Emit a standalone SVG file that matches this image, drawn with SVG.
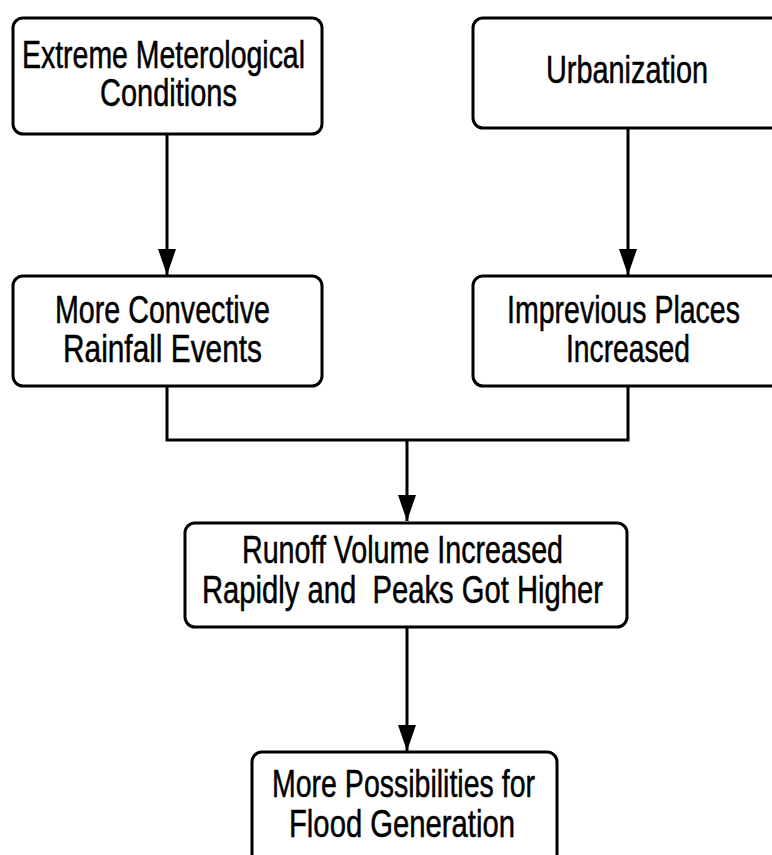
<svg xmlns="http://www.w3.org/2000/svg" width="772" height="855" viewBox="0 0 772 855">
  <style>
    .box { fill: #ffffff; stroke: #000000; stroke-width: 3; }
    .lbl { font-family: "Liberation Sans", Arial, sans-serif; font-size: 38px; fill: #000000; stroke: #000000; stroke-width: 0.5; white-space: pre; }
    .wire { fill: none; stroke: #000000; stroke-width: 3; }
  </style>
  <defs>
    <marker id="arrow" markerUnits="userSpaceOnUse" markerWidth="26" markerHeight="18" refX="26" refY="9" orient="auto">
      <path d="M0,0 L26,9 L0,18 Z" fill="#000000"/>
    </marker>
  </defs>

  <rect width="772" height="855" fill="#ffffff"/>

  <g id="connectors">
    <line class="wire" x1="167" y1="134" x2="167" y2="275" marker-end="url(#arrow)"/>
    <line class="wire" x1="628" y1="128" x2="628" y2="275" marker-end="url(#arrow)"/>
    <path class="wire" d="M167,386 V440 H628 V386"/>
    <line class="wire" x1="407" y1="440" x2="407" y2="521" marker-end="url(#arrow)"/>
    <line class="wire" x1="407" y1="627" x2="407" y2="751" marker-end="url(#arrow)"/>
  </g>

  <g id="extreme-conditions">
    <rect class="box" x="13" y="18" width="309" height="116" rx="10"/>
    <text class="lbl" x="22" y="68" textLength="283" lengthAdjust="spacingAndGlyphs">Extreme Meterological</text>
    <text class="lbl" x="100" y="106" textLength="137" lengthAdjust="spacingAndGlyphs">Conditions</text>
  </g>

  <g id="urbanization">
    <rect class="box" x="473" y="18" width="320" height="110" rx="10"/>
    <text class="lbl" x="546" y="83" textLength="162" lengthAdjust="spacingAndGlyphs">Urbanization</text>
  </g>

  <g id="convective-rainfall">
    <rect class="box" x="13" y="276" width="309" height="110" rx="10"/>
    <text class="lbl" x="55" y="323" textLength="215" lengthAdjust="spacingAndGlyphs">More Convective</text>
    <text class="lbl" x="63" y="362" textLength="199" lengthAdjust="spacingAndGlyphs">Rainfall Events</text>
  </g>

  <g id="impervious-places">
    <rect class="box" x="473" y="276" width="320" height="110" rx="10"/>
    <text class="lbl" x="507" y="323" textLength="233" lengthAdjust="spacingAndGlyphs">Imprevious Places</text>
    <text class="lbl" x="566" y="362" textLength="124" lengthAdjust="spacingAndGlyphs">Increased</text>
  </g>

  <g id="runoff-volume">
    <rect class="box" x="185" y="523" width="442" height="104" rx="10"/>
    <text class="lbl" x="242" y="563" textLength="321" lengthAdjust="spacingAndGlyphs">Runoff Volume Increased</text>
    <text class="lbl" x="202" y="603" textLength="401" lengthAdjust="spacingAndGlyphs">Rapidly and  Peaks Got Higher</text>
  </g>

  <g id="flood-generation">
    <rect class="box" x="252" y="752" width="305" height="120" rx="10"/>
    <text class="lbl" x="272" y="797" textLength="263" lengthAdjust="spacingAndGlyphs">More Possibilities for</text>
    <text class="lbl" x="289" y="837" textLength="226" lengthAdjust="spacingAndGlyphs">Flood Generation</text>
  </g>
</svg>
